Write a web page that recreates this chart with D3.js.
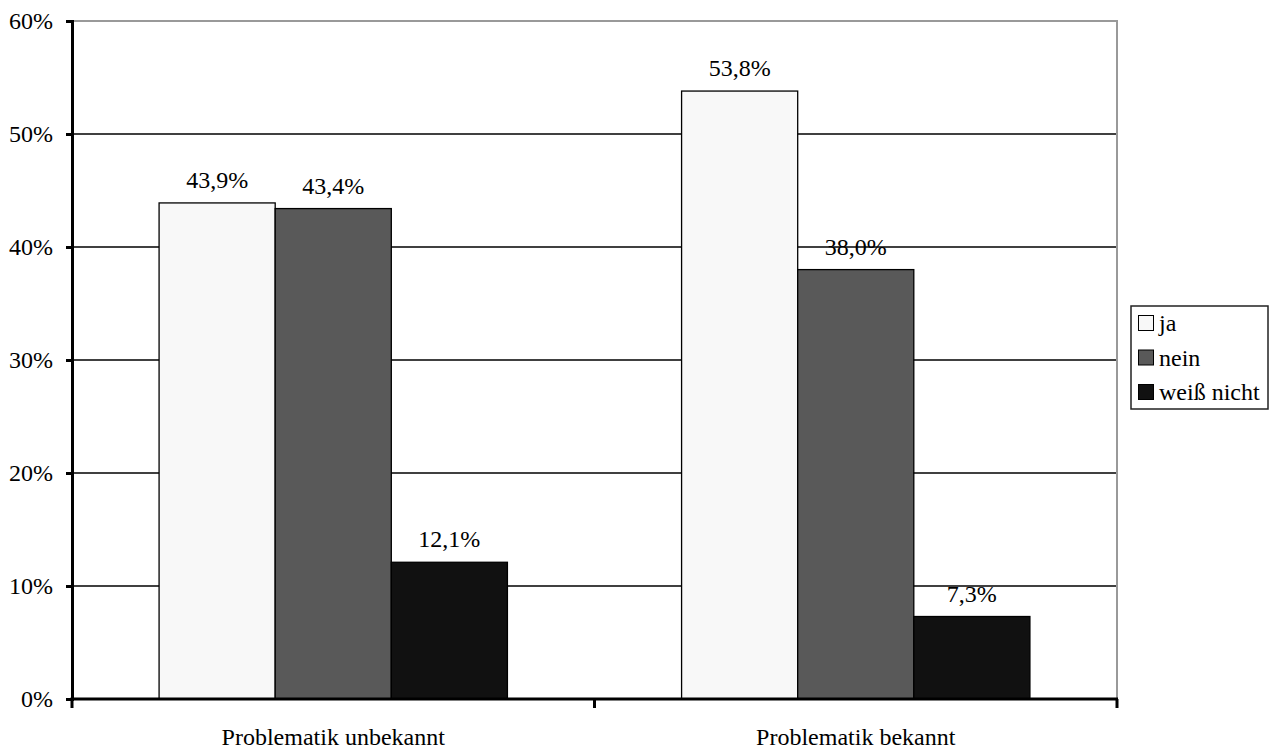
<!DOCTYPE html>
<html>
<head>
<meta charset="utf-8">
<script src="https://cdn.jsdelivr.net/npm/d3@7"></script>
<style>
  html, body { margin: 0; padding: 0; background: #fff; }
  svg { display: block; }
  svg text { font-family: "Liberation Serif", "Times New Roman", serif; font-size: 24px; fill: #000; }
</style>
</head>
<body>
<svg id="chart" width="1272" height="749" font-family="Liberation Serif, serif"></svg>
<script>
// Survey answers by awareness of the issue
const categories = ["Problematik unbekannt", "Problematik bekannt"];
const seriesNames = ["ja", "nein", "weiß nicht"];
const valuesJa = [43.9, 53.8];
const valuesNein = [43.4, 38.0];
const valuesWeiss = [12.1, 7.3];
const seriesColors = ["#f8f8f8", "#595959", "#111111"];
const yTicks = [0, 10, 20, 30, 40, 50, 60];

const seriesValues = [valuesJa, valuesNein, valuesWeiss];
const rows = [];
categories.forEach((c, ci) => {
  seriesNames.forEach((s, si) => {
    rows.push({ category: c, series: s, si: si, value: seriesValues[si][ci] });
  });
});

const FONT = "Liberation Serif, Times New Roman, serif";
const svg = d3.select("#chart");
const plot = { left: 72, right: 1117, top: 21, bottom: 699 };

const y = d3.scaleLinear().domain([0, 60]).range([plot.bottom, plot.top]);
const x0 = d3.scaleBand().domain(categories).range([plot.left, plot.right]).padding(0);
const x1 = d3.scaleBand().domain(seriesNames).range([0, x0.bandwidth()])
  .paddingInner(0).paddingOuter(0.75);

const fmt = v => d3.format(".1f")(v).replace(".", ",") + "%";

// Horizontal gridlines
svg.append("g")
  .selectAll("line")
  .data(yTicks.filter(t => t > 0 && t < 60))
  .join("line")
  .attr("x1", plot.left).attr("x2", plot.right)
  .attr("y1", d => y(d)).attr("y2", d => y(d))
  .attr("stroke", "#000").attr("stroke-width", 1.5);

// Plot frame: top and right edges
svg.append("path")
  .attr("d", `M${plot.left},${y(60)}H${plot.right}V${plot.bottom}`)
  .attr("fill", "none").attr("stroke", "#999").attr("stroke-width", 2);

// Bars
svg.append("g")
  .selectAll("rect")
  .data(rows)
  .join("rect")
  .attr("x", d => x0(d.category) + x1(d.series))
  .attr("width", x1.bandwidth())
  .attr("y", d => y(d.value))
  .attr("height", d => y(0) - y(d.value))
  .attr("fill", d => seriesColors[d.si])
  .attr("stroke", "#000").attr("stroke-width", 1.3);

// Value labels
svg.append("g")
  .selectAll("text")
  .data(rows)
  .join("text")
  .attr("font-family", FONT).attr("font-size", 24)
  .attr("x", d => x0(d.category) + x1(d.series) + x1.bandwidth() / 2)
  .attr("y", d => y(d.value) - 15)
  .attr("text-anchor", "middle")
  .text(d => fmt(d.value));

// Y axis
const yAxis = d3.axisLeft(y).tickValues(yTicks).tickSize(6).tickPadding(13)
  .tickFormat(d => d + "%");
const gy = svg.append("g").attr("transform", `translate(${plot.left},0)`).call(yAxis)
  .attr("font-family", FONT).attr("font-size", 24);
gy.select(".domain").attr("stroke", "#000").attr("stroke-width", 3);
gy.selectAll(".tick line").attr("stroke", "#000").attr("stroke-width", 3);
gy.selectAll(".tick text").attr("fill", "#000");

// X axis: category boundary ticks with centred labels
svg.append("line")
  .attr("x1", plot.left - 1.5).attr("x2", plot.right + 1)
  .attr("y1", y(0)).attr("y2", y(0))
  .attr("stroke", "#000").attr("stroke-width", 3);
const boundaries = categories.map(c => x0(c)).concat([x0(categories[categories.length - 1]) + x0.bandwidth()]);
svg.append("g")
  .selectAll("line")
  .data(boundaries)
  .join("line")
  .attr("x1", d => d).attr("x2", d => d)
  .attr("y1", y(0)).attr("y2", y(0) + 9)
  .attr("stroke", "#000").attr("stroke-width", 3);
svg.append("g")
  .selectAll("text")
  .data(categories)
  .join("text")
  .attr("font-family", FONT).attr("font-size", 24)
  .attr("x", d => x0(d) + x0.bandwidth() / 2)
  .attr("y", 745)
  .attr("text-anchor", "middle")
  .text(d => d);

// Legend
const legend = svg.append("g").attr("transform", "translate(1131,306)");
legend.append("rect")
  .attr("x", 0).attr("y", 0).attr("width", 137).attr("height", 103)
  .attr("fill", "#fff").attr("stroke", "#222").attr("stroke-width", 1.5);
const items = legend.selectAll("g.item")
  .data(seriesNames)
  .join("g")
  .attr("class", "item")
  .attr("transform", (d, i) => `translate(0,${17 + i * 34.5})`);
items.append("rect")
  .attr("x", 7.5).attr("y", -7.5).attr("width", 15).attr("height", 15)
  .attr("fill", (d, i) => seriesColors[i])
  .attr("stroke", "#000").attr("stroke-width", 1);
items.append("text")
  .attr("font-family", FONT).attr("font-size", 24)
  .attr("x", 28).attr("y", 8)
  .text(d => d);
</script>
</body>
</html>
